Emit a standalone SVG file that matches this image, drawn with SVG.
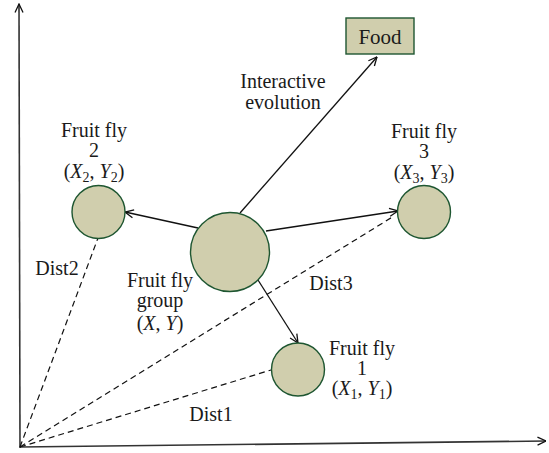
<svg xmlns="http://www.w3.org/2000/svg" width="549" height="453" viewBox="0 0 549 453">
<style>
text{font-family:"Liberation Serif","Times New Roman",serif;font-size:20px;fill:#1a1a1a;text-anchor:middle}
.i{font-style:italic}
.node{fill:#d0cead;stroke:#1e5631;stroke-width:1.4}
.ar{fill:none;stroke:#111;stroke-width:1.3;marker-end:url(#ah)}
.ds{fill:none;stroke:#111;stroke-width:1.2;stroke-dasharray:6 4}
.ax{fill:none;stroke:#333;stroke-width:1.6;marker-end:url(#ah)}
</style>
<defs>
<marker id="ah" viewBox="0 0 10 10" refX="9.5" refY="5" markerWidth="10" markerHeight="10" markerUnits="userSpaceOnUse" orient="auto">
<path d="M1,1 L9.5,5 L1,9" fill="none" stroke="#111" stroke-width="1.3"/>
</marker>
</defs>
<g id="connectors">
<line class="ax" x1="20" y1="448" x2="19" y2="4"/>
<line class="ax" x1="20" y1="447" x2="546" y2="441"/>
<line class="ar" x1="240" y1="213" x2="377" y2="57"/>
<line class="ar" x1="198" y1="228" x2="125" y2="212"/>
<line class="ar" x1="266" y1="231" x2="398" y2="211"/>
<line class="ar" x1="258" y1="280" x2="298" y2="343"/>
<line class="ds" x1="20" y1="447" x2="98" y2="238"/>
<line class="ds" x1="20" y1="447" x2="394" y2="216"/>
<line class="ds" x1="20" y1="447" x2="271" y2="370"/>
<text x="283" y="88">Interactive</text>
<text x="283" y="109">evolution</text>
<text x="57" y="275">Dist2</text>
<text x="331" y="290">Dist3</text>
<text x="211" y="421">Dist1</text>
</g>
<g id="food">
<rect class="node" x="346" y="18" width="68" height="36"/>
<text x="380" y="44" style="font-size:21px">Food</text>
</g>
<g id="group">
<circle class="node" cx="230" cy="252" r="39.5"/>
<text x="160" y="287">Fruit fly</text>
<text x="160" y="307">group</text>
<text x="160" y="330">(<tspan class="i">X</tspan>, <tspan class="i">Y</tspan>)</text>
</g>
<g id="fly2">
<circle class="node" cx="98.5" cy="212" r="26.5"/>
<text x="94" y="137">Fruit fly</text>
<text x="94" y="157">2</text>
<text x="94" y="178">(<tspan class="i">X</tspan><tspan font-size="14" dy="4">2</tspan><tspan dy="-4">, </tspan><tspan class="i">Y</tspan><tspan font-size="14" dy="4">2</tspan><tspan dy="-4">)</tspan></text>
</g>
<g id="fly3">
<circle class="node" cx="424" cy="212" r="26.5"/>
<text x="424" y="138">Fruit fly</text>
<text x="424" y="158">3</text>
<text x="424" y="179">(<tspan class="i">X</tspan><tspan font-size="14" dy="4">3</tspan><tspan dy="-4">, </tspan><tspan class="i">Y</tspan><tspan font-size="14" dy="4">3</tspan><tspan dy="-4">)</tspan></text>
</g>
<g id="fly1">
<circle class="node" cx="298" cy="369.5" r="26.5"/>
<text x="362" y="355">Fruit fly</text>
<text x="362" y="375">1</text>
<text x="362" y="395">(<tspan class="i">X</tspan><tspan font-size="14" dy="4">1</tspan><tspan dy="-4">, </tspan><tspan class="i">Y</tspan><tspan font-size="14" dy="4">1</tspan><tspan dy="-4">)</tspan></text>
</g>
</svg>
